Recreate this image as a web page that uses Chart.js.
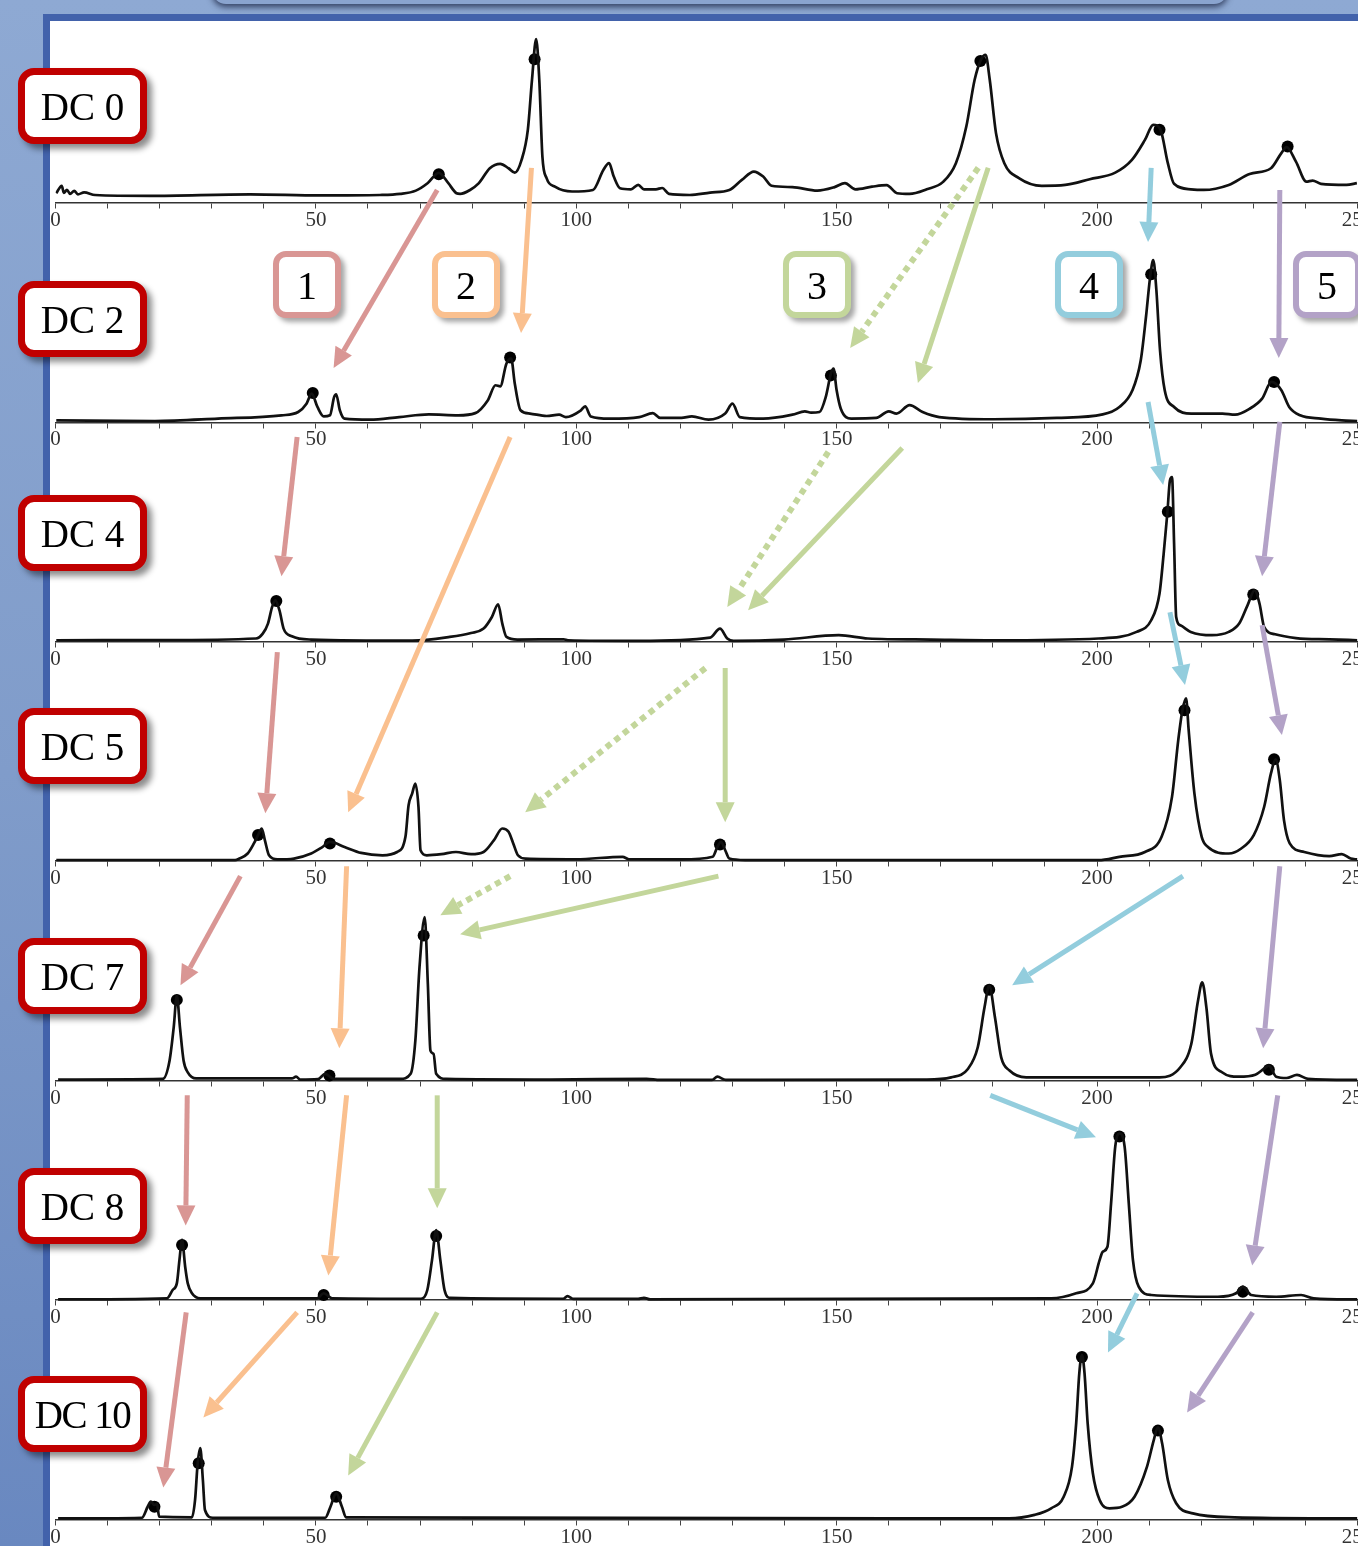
<!DOCTYPE html>
<html>
<head>
<meta charset="utf-8">
<script src="https://cdn.jsdelivr.net/npm/chart.js@4.4.0/dist/chart.umd.min.js"></script>
<style>
html, body { margin: 0; padding: 0; width: 1358px; height: 1546px; overflow: hidden; }
body { position: relative; background: linear-gradient(to bottom, #8ea9d3 0%, #809cca 50%, #6988c0 100%); font-family: 'Liberation Serif', serif; }
#tab { position: absolute; left: 212px; top: -30px; width: 1016px; height: 34px; background: #8aa4cf; border-radius: 0 0 14px 14px; box-shadow: 0 3px 6px rgba(20, 30, 60, .75); }
#panel { position: absolute; left: 43px; top: 14px; width: 1400px; height: 1600px; background: #fff; border-left: 7px solid #4262ab; border-top: 7px solid #4262ab; }
#chart { position: absolute; left: 47px; top: 21px; }
.dc { position: absolute; left: 18px; width: 115px; height: 62px; border: 7px solid #c00000; border-radius: 16px; background: #fff; box-shadow: 5px 5px 6px rgba(0, 0, 0, .45); font-size: 39px; line-height: 64px; text-align: center; color: #000; white-space: nowrap; }
.num { position: absolute; top: 251px; width: 56px; height: 55px; border: 6px solid; border-radius: 13px; background: #fff; box-shadow: 4px 4px 5px rgba(0, 0, 0, .35); font-size: 40px; line-height: 57px; text-align: center; color: #000; }
</style>
</head>
<body>
<div id="tab"></div>
<div id="panel"></div>
<canvas id="chart" width="1330" height="1525"></canvas>
<script>
// spectra: [position, intensity in % of one panel height]
const panelNames = ['DC 0', 'DC 2', 'DC 4', 'DC 5', 'DC 7', 'DC 8', 'DC 10'];
const tickLabels = [0, 50, 100, 150, 200, 250];

const dc0 = [[0.15,4.4],[1.2,7.8],[1.6,4.6],[2.2,5.9],[2.8,4.1],[3.6,5.5],[4.3,3.9],[5.5,4.8],[7.6,3.6],[18.1,3.2],[37.4,3.9],[50.8,3.4],[62.3,3.6],[66.2,4.1],[69.2,5.6],[71.5,9.1],[73.6,13.7],[75.4,9.1],[77.0,4.4],[77.7,4.1],[79.6,5.9],[81.3,9.0],[83.4,15.8],[85.4,17.8],[87.0,15.8],[88.2,13.8],[89.5,19.6],[90.7,33.3],[91.5,56.1],[92.3,74.6],[92.9,56.1],[93.5,21.1],[94.3,11.3],[95.9,7.4],[99.2,5.2],[103.2,5.9],[105.2,15.0],[106.3,18.1],[107.2,12.0],[108.4,6.7],[110.5,6.2],[111.9,8.2],[113.0,6.2],[115.3,6.2],[116.5,6.8],[117.8,4.1],[121.8,3.6],[125.7,4.7],[129.4,5.9],[131.8,10.5],[134.1,14.3],[135.9,12.0],[137.5,7.8],[141.5,7.2],[146.3,5.6],[149.6,7.2],[151.6,9.0],[153.6,6.2],[156.8,7.4],[159.6,8.1],[161.6,4.4],[164.0,4.1],[167.3,6.2],[170.5,9.7],[172.9,18.1],[174.9,34.8],[176.5,56.1],[177.7,65.2],[178.6,67.5],[179.4,56.1],[180.6,31.8],[182.2,18.1],[185.0,11.3],[189.4,7.8],[193.9,8.2],[198.6,10.8],[203.5,13.8],[206.7,19.6],[209.2,28.7],[210.8,35.6],[212.2,33.3],[213.6,18.1],[214.8,8.7],[218.0,6.2],[220.5,5.9],[225.3,8.2],[229.3,13.2],[233.4,15.8],[235.4,22.7],[236.4,25.4],[238.2,18.8],[240.2,9.7],[241.4,10.2],[243.0,8.7],[247.9,8.2],[249.9,9.0]];
const dc2 = [[0.15,0.9],[19.1,0.6],[31.2,1.7],[43.4,3.2],[46.6,4.7],[48.2,8.5],[49.2,13.1],[50.3,7.0],[51.5,2.7],[52.7,3.2],[53.5,11.5],[53.9,12.8],[54.6,5.5],[55.5,1.7],[60.4,1.2],[66.0,2.4],[71.7,3.6],[77.3,3.2],[80.6,4.2],[83.0,10.0],[84.5,16.9],[85.4,16.4],[86.6,26.8],[87.5,29.0],[88.2,17.6],[89.3,5.5],[91.1,4.0],[94.3,2.9],[96.7,3.5],[98.0,2.4],[100.9,5.5],[101.7,7.3],[102.8,2.7],[106.4,1.7],[112.1,2.4],[114.7,4.2],[116.1,2.0],[120.2,2.0],[122.2,2.7],[125.4,1.2],[128.6,4.0],[130.0,8.5],[131.4,2.4],[135.9,1.7],[141.5,3.5],[143.9,5.0],[145.1,4.4],[146.7,4.7],[147.9,11.5],[148.9,22.2],[149.4,24.5],[150.0,14.6],[150.8,6.2],[152.8,1.7],[157.6,2.0],[160.0,5.0],[161.5,4.0],[164.0,7.8],[166.5,4.7],[169.7,2.4],[180.2,1.4],[192.3,2.0],[201.1,3.6],[204.3,7.0],[206.8,14.6],[208.4,28.3],[209.4,48.0],[210.2,66.2],[210.8,73.9],[211.4,60.2],[212.1,32.8],[213.0,14.6],[214.8,7.0],[218.1,4.0],[224.1,4.0],[226.5,3.5],[229.3,6.2],[231.7,10.8],[233.5,18.4],[235.4,14.6],[236.9,7.0],[239.0,3.2],[243.0,1.7],[247.0,0.9],[250.0,0.6]];
const dc4 = [[0.15,0.7],[20.0,0.8],[38.5,1.5],[39.8,3.7],[40.8,8.3],[41.6,15.9],[42.2,18.9],[43.0,14.4],[43.8,6.0],[45.4,2.5],[49.1,1.0],[68.5,0.5],[75.7,2.2],[79.8,4.0],[82.2,6.0],[83.8,11.3],[85.0,17.1],[85.8,8.3],[86.6,2.2],[88.7,1.0],[97.6,1.1],[98.4,0.7],[112.1,0.4],[125.7,1.9],[127.6,6.0],[129.0,1.5],[130.2,0.4],[139.9,1.0],[150.4,3.0],[156.0,1.5],[168.1,1.0],[180.2,0.7],[200.3,1.5],[207.6,4.5],[210.4,9.8],[212.0,22.0],[212.8,40.2],[213.5,58.5],[214.0,73.5],[214.4,75.1],[214.8,44.8],[215.2,11.3],[216.0,7.5],[218.0,4.5],[222.1,3.0],[225.3,4.5],[227.3,8.3],[228.9,16.6],[230.3,23.5],[231.2,17.4],[232.1,6.7],[234.2,3.4],[238.2,1.7],[244.6,1.1],[250.0,0.7]];
const dc5 = [[0.15,0.5],[34.5,0.5],[35.3,1.2],[36.9,3.5],[38.1,8.1],[38.9,11.9],[39.6,14.9],[40.2,9.6],[41.0,2.7],[42.6,0.8],[45.8,1.2],[49.1,3.5],[51.1,6.2],[52.7,8.8],[55.5,6.5],[58.7,3.8],[62.8,2.7],[65.6,4.2],[67.2,11.1],[67.8,25.5],[68.5,30.9],[69.1,35.4],[69.7,24.8],[70.1,5.0],[71.3,2.7],[74.1,3.2],[76.9,4.2],[79.8,3.2],[82.2,4.2],[84.2,9.6],[85.8,14.9],[87.0,13.4],[87.9,8.1],[88.8,2.7],[90.3,1.2],[100.0,0.9],[108.9,2.0],[110.1,0.9],[120.2,0.8],[126.2,2.0],[127.1,6.5],[127.8,8.8],[128.6,5.0],[129.4,1.2],[132.4,0.5],[200.3,0.5],[204.3,2.0],[209.2,4.2],[212.4,11.1],[214.4,29.3],[215.6,55.2],[216.4,68.8],[217.1,74.2],[217.6,59.7],[218.7,30.9],[220.1,11.1],[221.3,6.5],[225.3,3.5],[227.7,5.8],[230.1,11.9],[232.1,24.8],[233.4,40.0],[234.3,46.4],[235.1,36.9],[235.9,18.7],[237.0,8.1],[239.8,4.2],[244.6,2.3],[247.0,3.2],[248.7,1.2],[250.0,0.8]];
const dc7 = [[0.5,0.5],[20.6,0.8],[21.9,9.1],[22.7,24.3],[23.3,38.8],[23.9,24.3],[24.6,9.1],[25.4,3.8],[27.0,1.0],[45.4,1.0],[46.2,1.8],[47.0,0.5],[50.4,0.7],[51.8,3.1],[53.4,0.8],[66.2,0.8],[68.2,3.1],[69.1,18.2],[69.9,51.7],[70.9,74.5],[71.5,44.1],[72.0,13.7],[72.6,12.2],[73.1,3.1],[75.0,0.8],[95.1,0.5],[113.5,0.8],[116.1,0.3],[126.1,0.3],[127.1,1.8],[128.7,0.3],[167.1,0.5],[172.0,1.5],[175.2,5.3],[177.1,15.2],[178.4,33.4],[179.3,43.3],[180.4,28.9],[181.6,10.6],[183.2,4.6],[186.4,1.5],[212.0,1.5],[216.0,6.1],[218.1,16.7],[219.4,36.5],[220.2,44.8],[221.0,33.4],[221.9,12.2],[224.0,3.8],[227.2,1.8],[230.4,2.7],[232.0,5.3],[233.0,6.8],[234.4,1.8],[236.4,1.2],[238.4,2.6],[240.5,0.8],[250.0,0.3]];
const dc8 = [[0.5,0.3],[21.4,0.8],[22.5,4.6],[23.3,7.6],[23.8,18.2],[24.3,27.4],[24.9,15.2],[25.4,7.6],[26.2,3.1],[27.8,0.8],[50.2,0.8],[51.5,3.1],[53.1,0.8],[70.2,0.6],[71.4,4.6],[72.3,18.2],[73.1,31.9],[73.9,18.2],[74.7,4.6],[75.8,1.0],[97.5,0.6],[98.3,1.8],[99.5,0.5],[111.9,0.5],[113.0,1.0],[114.2,0.3],[191.2,0.8],[196.0,3.1],[199.2,7.6],[200.5,18.2],[201.1,22.0],[202.0,24.3],[202.7,44.1],[203.5,69.9],[204.3,76.0],[205.3,69.9],[206.1,44.1],[206.9,18.2],[208.0,6.1],[210.4,2.3],[223.2,1.5],[226.7,3.1],[228.0,6.1],[229.6,2.3],[234.4,1.5],[239.2,2.3],[241.6,0.8],[250.0,0.3]];
const dc10 = [[0.5,0.5],[16.6,0.8],[17.7,5.8],[18.3,8.1],[19.0,6.6],[19.5,7.1],[19.9,1.3],[26.2,1.0],[26.8,8.9],[27.3,25.6],[27.8,32.5],[28.3,18.0],[28.7,4.3],[30.2,0.8],[51.8,0.8],[52.8,5.8],[53.9,11.9],[55.0,5.8],[55.8,1.0],[183.1,0.5],[188.0,2.1],[191.2,5.1],[193.6,10.4],[195.2,24.1],[196.0,43.9],[196.6,66.7],[197.1,75.0],[197.6,66.7],[198.2,43.9],[199.2,21.1],[200.5,8.9],[202.4,5.1],[204.8,5.8],[207.2,10.4],[209.6,24.1],[210.9,36.2],[211.7,42.0],[212.5,34.7],[213.6,18.0],[215.2,7.4],[218.4,2.8],[226.4,1.0],[250.0,0.5]];

// marked peaks (dots)
const dc0Marks = [[73.6,13.1],[92.0,65.5],[177.6,64.7],[212.0,33.3],[236.6,25.7]];
const dc2Marks = [[49.4,13.4],[87.3,29.5],[148.9,21.4],[210.4,67.5],[234.0,18.4]];
const dc4Marks = [[42.4,18.6],[213.6,59.2],[230.0,21.5]];
const dc5Marks = [[38.9,11.9],[52.7,8.1],[127.6,7.6],[216.8,68.8],[234.0,46.5]];
const dc7Marks = [[23.3,36.8],[52.6,2.3],[70.7,66.1],[179.3,41.4],[233.0,5.0]];
const dc8Marks = [[24.3,25.1],[51.5,2.3],[73.1,29.2],[204.3,74.5],[228.0,3.8]];
const dc10Marks = [[19.0,5.8],[27.5,25.6],[53.9,10.4],[197.1,74.0],[211.7,40.5]];

// peak tracking arrows: [x from, level from, x to, level to] (level: panel k base = (6-k)*100)
const arrows1 = [[73.3,605.9,53.4,524.8],[46.4,493.3,43.4,429.9],[42.6,395.3,40.3,321.9],[35.5,293.2,24.0,243.5],[25.3,193.3,25.0,134.0],[25.1,94.4,20.7,14.6]];
const arrows2 = [[91.4,616.0,89.4,540.7],[87.3,493.3,56.2,322.3],[55.9,297.7,54.5,214.7],[55.9,193.3,52.4,111.2],[46.4,94.4,28.4,46.5]];
const arrows3 = [[179.1,616.0,165.6,517.9],[162.6,488.3,133.0,414.4],[128.6,388.0,128.6,317.8],[127.3,293.2,77.7,266.7],[73.3,193.3,73.3,141.8],[73.3,94.4,56.2,20.1]];
const arrows3Dotted = [[177.2,616.0,152.6,533.9],[148.4,486.5,129.0,415.8],[124.8,388.0,90.2,322.3],[87.3,293.2,73.9,275.4]];
const arrows4 = [[210.4,616.0,209.8,582.2],[209.8,509.3,212.7,471.4],[214.0,413.5,216.9,380.3],[216.5,293.2,183.7,243.5],[179.5,193.3,199.8,174.2],[207.7,103.0,202.1,76.1]];
const arrows5 = [[235.1,605.9,234.9,529.3],[235.1,500.2,231.7,429.9],[231.7,407.6,235.5,357.5],[235.1,297.7,231.9,214.7],[234.7,193.3,229.8,115.8],[229.9,94.4,217.3,48.8]];
const numberLabels = ['1', '2', '3', '4', '5'];

// layout / style
const spectra = [dc0, dc2, dc4, dc5, dc7, dc8, dc10];
const marks = [dc0Marks, dc2Marks, dc4Marks, dc5Marks, dc7Marks, dc8Marks, dc10Marks];
const colors = ['#d99694', '#fac08f', '#c3d69b', '#93cddd', '#b3a2c7'];
const arrowGroups = [
    { list: arrows1, color: colors[0] },
    { list: arrows2, color: colors[1] },
    { list: arrows3, color: colors[2] },
    { list: arrows3Dotted, color: colors[2], dotted: true },
    { list: arrows4, color: colors[3] },
    { list: arrows5, color: colors[4] },
];
const labelTops = [68, 281, 495, 708, 938, 1168, 1376];
const numberLefts = [273, 432, 783, 1055, 1293];

panelNames.forEach((name, k) => {
    const d = document.createElement('div');
    d.className = 'dc';
    d.style.top = labelTops[k] + 'px';
    if (name.length > 4) d.style.letterSpacing = '-1.5px';
    d.textContent = name;
    document.body.appendChild(d);
});
numberLabels.forEach((t, i) => {
    const d = document.createElement('div');
    d.className = 'num';
    d.style.left = numberLefts[i] + 'px';
    d.style.borderColor = colors[i];
    d.textContent = t;
    document.body.appendChild(d);
});

function drawArrow(ctx, x0, y0, x1, y1, color, dotted) {
    const ang = Math.atan2(y1 - y0, x1 - x0);
    const head = 20, half = 9.5;
    const bx = x1 - head * Math.cos(ang);
    const by = y1 - head * Math.sin(ang);
    ctx.save();
    ctx.strokeStyle = color;
    ctx.fillStyle = color;
    ctx.lineWidth = dotted ? 6 : 5;
    ctx.setLineDash(dotted ? [6, 5] : []);
    ctx.beginPath();
    ctx.moveTo(x0, y0);
    ctx.lineTo(bx, by);
    ctx.stroke();
    ctx.setLineDash([]);
    ctx.beginPath();
    ctx.moveTo(x1, y1);
    ctx.lineTo(bx + half * Math.sin(ang), by - half * Math.cos(ang));
    ctx.lineTo(bx - half * Math.sin(ang), by + half * Math.cos(ang));
    ctx.closePath();
    ctx.fill();
    ctx.restore();
}

const arrowPlugin = {
    id: 'peakArrows',
    afterDatasetsDraw(chart) {
        const xs = chart.scales.x0, ys = chart.scales.y;
        for (const g of arrowGroups) {
            for (const a of g.list) {
                drawArrow(chart.ctx, xs.getPixelForValue(a[0]), ys.getPixelForValue(a[1]),
                    xs.getPixelForValue(a[2]), ys.getPixelForValue(a[3]), g.color, g.dotted);
            }
        }
    }
};

const scales = { y: { type: 'linear', min: -12.08, max: 682.9, display: false } };
const datasets = [];
spectra.forEach((s, k) => {
    const base = (6 - k) * 100;
    scales['x' + k] = {
        type: 'linear',
        axis: 'x',
        position: { y: base },
        min: 0,
        max: 250,
        ticks: {
            stepSize: 10,
            autoSkip: false,
            maxRotation: 0,
            padding: 0,
            color: '#333',
            font: { family: "'Liberation Serif'", size: 21 },
            callback: v => tickLabels.includes(v) ? String(v) : ''
        },
        grid: { drawOnChartArea: false, drawTicks: true, tickLength: 5, color: '#444', tickWidth: 1 },
        border: { display: true, color: '#333', width: 1.5 }
    };
    datasets.push({
        type: 'line',
        xAxisID: 'x' + k,
        yAxisID: 'y',
        data: s.map(p => ({ x: p[0], y: base + p[1] })),
        borderColor: '#111',
        borderWidth: 2.7,
        pointRadius: 0,
        cubicInterpolationMode: 'monotone',
        fill: false
    });
    datasets.push({
        type: 'scatter',
        xAxisID: 'x' + k,
        yAxisID: 'y',
        data: marks[k].map(p => ({ x: p[0], y: base + p[1] })),
        pointRadius: 6,
        pointBackgroundColor: '#000',
        pointBorderWidth: 0
    });
});

new Chart(document.getElementById('chart'), {
    type: 'line',
    data: { datasets: datasets },
    options: {
        responsive: false,
        animation: false,
        layout: { autoPadding: false, padding: { left: 8.5, right: 19.6, top: 0, bottom: 0 } },
        plugins: { legend: { display: false }, tooltip: { enabled: false } },
        scales: scales
    },
    plugins: [arrowPlugin]
});
</script>
</body>
</html>
